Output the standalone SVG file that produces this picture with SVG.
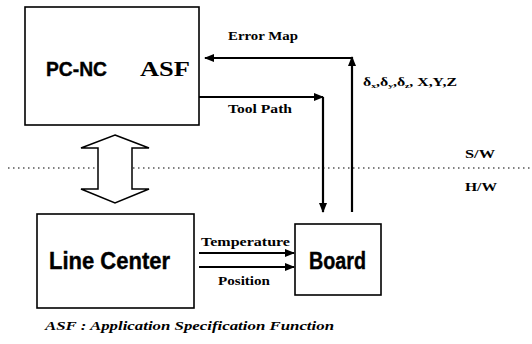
<svg xmlns="http://www.w3.org/2000/svg" width="532" height="344" viewBox="0 0 532 344">
<style>
.box{fill:#fff;stroke:#000;stroke-width:1.6}
.ln{fill:none;stroke:#000;stroke-width:2.2}
.big{font-family:"Liberation Sans Narrow","Liberation Sans",Arial,sans-serif;font-weight:bold;fill:#000;stroke:#000;stroke-width:0.4}
.ser{font-family:"Liberation Serif","Times New Roman",serif;font-weight:bold;fill:#000}
</style>
<defs>
<marker id="ah" markerWidth="10" markerHeight="8" refX="9" refY="4" orient="auto" markerUnits="userSpaceOnUse">
<path d="M0,0 L10,4 L0,8 Z" fill="#000"/>
</marker>
</defs>
<rect width="532" height="344" fill="#fff"/>
<line x1="8" y1="168" x2="532" y2="168" stroke="#000" stroke-width="1.2" stroke-dasharray="1.5,3.5"/>
<g id="pcnc">
<rect class="box" x="25" y="7" width="174" height="118"/>
<text class="big" x="46" y="76" font-size="21" textLength="61" lengthAdjust="spacingAndGlyphs">PC-NC</text>
<text class="ser" x="140" y="76" font-size="21" textLength="50" lengthAdjust="spacingAndGlyphs" font-weight="normal">ASF</text>
</g>
<g id="hollow-arrow">
<path d="M115,135 L149,148 L132,148 L132,189 L149,189 L115,203 L81,189 L98,189 L98,148 L81,148 Z" fill="#fff" stroke="#000" stroke-width="1.5" stroke-linejoin="miter"/>
</g>
<g id="linecenter">
<rect class="box" x="37" y="214" width="157" height="94"/>
<text class="big" x="49" y="269" font-size="23" textLength="121" lengthAdjust="spacingAndGlyphs">Line Center</text>
</g>
<g id="board">
<rect class="box" x="295" y="224" width="86" height="71"/>
<text class="big" x="309" y="269" font-size="23" textLength="57" lengthAdjust="spacingAndGlyphs">Board</text>
</g>
<g id="connectors">
<path class="ln" d="M352,212 L352,57" marker-end="url(#ah)"/>
<path class="ln" d="M352,58 L205,58" marker-end="url(#ah)"/>
<path class="ln" d="M199,97 L323,97" marker-end="url(#ah)"/>
<path class="ln" d="M323,97 L323,212" marker-end="url(#ah)"/>
<path class="ln" d="M199,253 L294,253" marker-end="url(#ah)"/>
<path class="ln" d="M199,267 L294,267" marker-end="url(#ah)"/>
</g>
<g id="labels">
<text class="ser" x="228" y="40" font-size="11.5" textLength="70" lengthAdjust="spacingAndGlyphs">Error Map</text>
<text class="ser" x="228" y="113" font-size="11.5" textLength="64" lengthAdjust="spacingAndGlyphs">Tool Path</text>
<text class="ser" x="363" y="86" font-size="11.5" font-weight="normal" textLength="94" lengthAdjust="spacingAndGlyphs">δ<tspan font-size="7" dy="2">x</tspan><tspan dy="-2">,δ</tspan><tspan font-size="7" dy="2">y</tspan><tspan dy="-2">,δ</tspan><tspan font-size="7" dy="2">z</tspan><tspan dy="-2">, X,Y,Z</tspan></text>
<text class="ser" x="201" y="246" font-size="11.5" textLength="89" lengthAdjust="spacingAndGlyphs">Temperature</text>
<text class="ser" x="218" y="285" font-size="11.5" textLength="52" lengthAdjust="spacingAndGlyphs">Position</text>
<text class="ser" x="465" y="158" font-size="12" textLength="30" lengthAdjust="spacingAndGlyphs">S/W</text>
<text class="ser" x="465" y="191" font-size="12" textLength="32" lengthAdjust="spacingAndGlyphs">H/W</text>
<text class="ser" x="45" y="330" font-size="13" font-style="italic" textLength="289" lengthAdjust="spacingAndGlyphs">ASF : Application Specification Function</text>
</g>
</svg>
